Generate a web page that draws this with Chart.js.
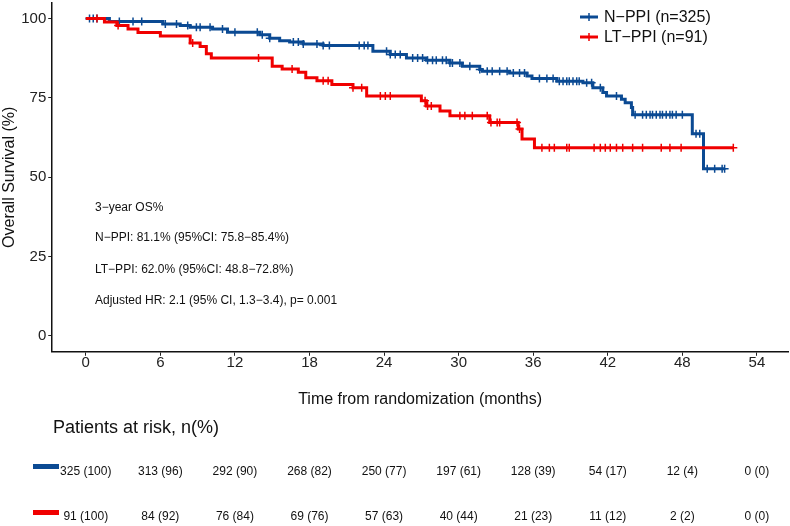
<!DOCTYPE html>
<html>
<head>
<meta charset="utf-8">
<script src="https://cdn.jsdelivr.net/npm/chart.js@4/dist/chart.umd.min.js"></script>
<style>
  html, body { margin: 0; padding: 0; background: #fff; }
  #wrap { width: 790px; height: 526px; position: relative; }
</style>
</head>
<body>
<div id="wrap"><canvas id="kmChart"></canvas></div>
<script>
// axis ticks
const xTicks = [0, 6, 12, 18, 24, 30, 36, 42, 48, 54];
const yTicks = [0, 25, 50, 75, 100];

// N-PPI: event times (months) and survival (%) after each step
const nppiTimes = [0, 1.9, 6.2, 7.6, 8.4, 10.2, 11.4, 14.0, 14.8, 15.6, 16.4, 17.5, 19.1, 23.1, 24.5, 25.8, 27.4, 29.3, 30.3, 31.7, 31.9, 34.1, 35.5, 35.9, 37.9, 40.0, 40.8, 41.6, 41.9, 43.1, 43.4, 43.9, 44.0, 48.8, 49.7, 51.4];
const nppiSurv  = [100, 99.1, 98.3, 97.8, 97.3, 96.7, 95.7, 94.9, 93.8, 93.0, 92.6, 92.0, 91.5, 89.7, 88.7, 87.6, 86.9, 86.0, 85.0, 84.0, 83.4, 82.9, 81.9, 81.1, 80.3, 79.8, 78.2, 76.7, 75.6, 74.6, 73.5, 72.0, 69.7, 63.7, 52.7, 52.7];
const nppiCensor = [0.3, 0.6, 0.9, 2.7, 3.8, 4.5, 6.4, 7.3, 8.2, 8.9, 9.2, 10.0, 11.0, 12.0, 13.8, 14.2, 14.8, 16.7, 17.1, 17.5, 18.6, 19.1, 19.6, 22.0, 22.4, 22.7, 24.2, 24.5, 24.9, 25.3, 26.3, 26.7, 27.1, 27.5, 27.9, 28.2, 28.7, 29.0, 29.3, 29.5, 30.1, 30.9, 31.7, 32.3, 32.7, 33.3, 33.9, 34.4, 34.9, 35.3, 36.5, 37.1, 37.6, 38.1, 38.4, 38.7, 38.9, 39.2, 39.5, 39.7, 40.3, 40.7, 41.4, 42.7, 44.2, 44.8, 45.1, 45.4, 45.6, 45.9, 46.2, 46.4, 46.7, 47.0, 47.2, 47.5, 48.0, 49.1, 49.4, 50.0, 50.6, 51.2, 51.4];

// LT-PPI
const ltppiTimes = [0, 1.5, 2.5, 3.4, 4.2, 6.0, 8.4, 9.2, 9.7, 10.1, 15.0, 15.8, 17.1, 17.7, 18.6, 19.8, 21.5, 22.6, 27.0, 27.4, 28.5, 29.3, 32.5, 34.8, 35.1, 36.1, 52.1];
const ltppiSurv  = [100, 98.9, 97.8, 96.7, 95.6, 94.5, 92.3, 91.2, 88.9, 87.6, 85.0, 84.1, 83.1, 81.4, 80.4, 79.2, 78.2, 75.6, 74.1, 72.5, 70.9, 69.4, 67.3, 65.2, 62.1, 59.3, 59.3];
const ltppiCensor = [0.9, 2.6, 8.6, 13.9, 16.6, 19.1, 19.5, 21.5, 22.2, 23.7, 24.1, 24.5, 27.3, 27.5, 27.8, 30.1, 30.5, 31.1, 32.3, 32.6, 33.1, 33.3, 34.7, 34.9, 36.7, 37.3, 37.7, 38.7, 38.9, 40.9, 41.4, 41.8, 42.2, 42.7, 43.2, 44.0, 44.8, 46.3, 47.0, 47.9, 52.1];

// patients at risk at each x tick
const nppiRisk = [325, 313, 292, 268, 250, 197, 128, 54, 12, 0];
const nppiRiskPct = [100, 96, 90, 82, 77, 61, 39, 17, 4, 0];
const ltppiRisk = [91, 84, 76, 69, 57, 40, 21, 11, 2, 0];
const ltppiRiskPct = [100, 92, 84, 76, 63, 44, 23, 12, 2, 0];

const notes = [
    '3\u2212year OS%',
    'N\u2212PPI: 81.1% (95%CI: 75.8\u221285.4%)',
    'LT\u2212PPI: 62.0% (95%CI: 48.8\u221272.8%)',
    'Adjusted HR: 2.1 (95% CI, 1.3\u22123.4), p= 0.001'
];

const BLUE = '#0b4a93';
const RED = '#f00000';
const FONT = '"Liberation Sans", Arial, sans-serif';

function stepPoints(times, surv) {
    return times.map((t, i) => ({ x: t, y: surv[i] }));
}
function survAt(times, surv, t) {
    let s = surv[0];
    for (let i = 0; i < times.length; i++) {
        if (times[i] <= t) s = surv[i];
    }
    return s;
}
function censorPoints(cens, times, surv) {
    return cens.map(t => ({ x: t, y: survAt(times, surv, t) }));
}

// legend, notes and risk table
const extras = {
    id: 'extras',
    afterDraw(chart) {
        const ctx = chart.ctx;
        const xs = chart.scales.x;
        ctx.save();

        // legend
        const leg = [[BLUE, 'N\u2212PPI (n=325)', 17], [RED, 'LT\u2212PPI (n=91)', 37]];
        leg.forEach(([c, txt, y]) => {
            ctx.strokeStyle = c;
            ctx.lineWidth = 3;
            ctx.beginPath(); ctx.moveTo(580, y); ctx.lineTo(598, y); ctx.stroke();
            ctx.lineWidth = 1.5;
            ctx.beginPath(); ctx.moveTo(589, y - 4); ctx.lineTo(589, y + 4); ctx.stroke();
            ctx.fillStyle = '#111';
            ctx.font = '16px ' + FONT;
            ctx.textAlign = 'left';
            ctx.textBaseline = 'middle';
            ctx.fillText(txt, 604, y + 1);
        });

        // notes
        ctx.font = '12px ' + FONT;
        ctx.fillStyle = '#111';
        [208, 238, 270, 301].forEach((y, i) => ctx.fillText(notes[i], 95, y));

        // risk table
        ctx.font = '18px ' + FONT;
        ctx.fillText('Patients at risk, n(%)', 53, 428);
        ctx.fillStyle = BLUE;
        ctx.fillRect(33, 464, 26, 5);
        ctx.fillStyle = RED;
        ctx.fillRect(33, 510, 26, 5);
        ctx.font = '12px ' + FONT;
        ctx.fillStyle = '#111';
        ctx.textAlign = 'center';
        xTicks.forEach((t, i) => {
            const px = xs.getPixelForValue(t);
            ctx.fillText(nppiRisk[i] + ' (' + nppiRiskPct[i] + ')', px, 472);
            ctx.fillText(ltppiRisk[i] + ' (' + ltppiRiskPct[i] + ')', px, 517);
        });
        ctx.restore();
    }
};

new Chart(document.getElementById('kmChart'), {
    type: 'line',
    data: {
        datasets: [
            {
                label: 'LT-PPI',
                data: stepPoints(ltppiTimes, ltppiSurv),
                borderColor: RED,
                borderWidth: 3,
                stepped: 'before',
                pointRadius: 0,
                fill: false,
                order: 1
            },
            {
                label: 'LT-PPI censored',
                data: censorPoints(ltppiCensor, ltppiTimes, ltppiSurv),
                showLine: false,
                pointStyle: 'cross',
                pointRadius: 4,
                borderColor: RED,
                borderWidth: 1.5,
                order: 0
            },
            {
                label: 'N-PPI',
                data: stepPoints(nppiTimes, nppiSurv),
                borderColor: BLUE,
                borderWidth: 3,
                stepped: 'before',
                pointRadius: 0,
                fill: false,
                order: 3
            },
            {
                label: 'N-PPI censored',
                data: censorPoints(nppiCensor, nppiTimes, nppiSurv),
                showLine: false,
                pointStyle: 'cross',
                pointRadius: 4,
                borderColor: BLUE,
                borderWidth: 1.5,
                order: 2
            }
        ]
    },
    options: {
        responsive: true,
        maintainAspectRatio: false,
        animation: false,
        layout: { autoPadding: false, padding: { left: 0, right: 2, top: 1, bottom: 117 } },
        plugins: {
            legend: { display: false },
            tooltip: { enabled: false }
        },
        scales: {
            x: {
                type: 'linear',
                min: -2.7,
                max: 56.5,
                afterBuildTicks: s => { s.ticks = xTicks.map(v => ({ value: v })); },
                grid: { drawOnChartArea: false, tickLength: 4, color: '#222' },
                border: { color: '#111', width: 1.5 },
                ticks: { font: { family: FONT, size: 15, lineHeight: 1 }, color: '#222', padding: 0, maxRotation: 0 },
                title: { display: true, text: 'Time from randomization (months)', font: { family: FONT, size: 16 }, color: '#111', padding: { top: 19, bottom: 0 } }
            },
            y: {
                min: -5,
                max: 105,
                afterBuildTicks: s => { s.ticks = yTicks.map(v => ({ value: v })); },
                grid: { drawOnChartArea: false, tickLength: 4, color: '#222' },
                border: { color: '#111', width: 1.5 },
                ticks: { font: { family: FONT, size: 15, lineHeight: 0.1 }, color: '#222', padding: 2 },
                title: { display: true, text: 'Overall Survival (%)', font: { family: FONT, size: 16 }, color: '#111', padding: { top: 0, bottom: 0 } }
            }
        }
    },
    plugins: [extras]
});
</script>
</body>
</html>
